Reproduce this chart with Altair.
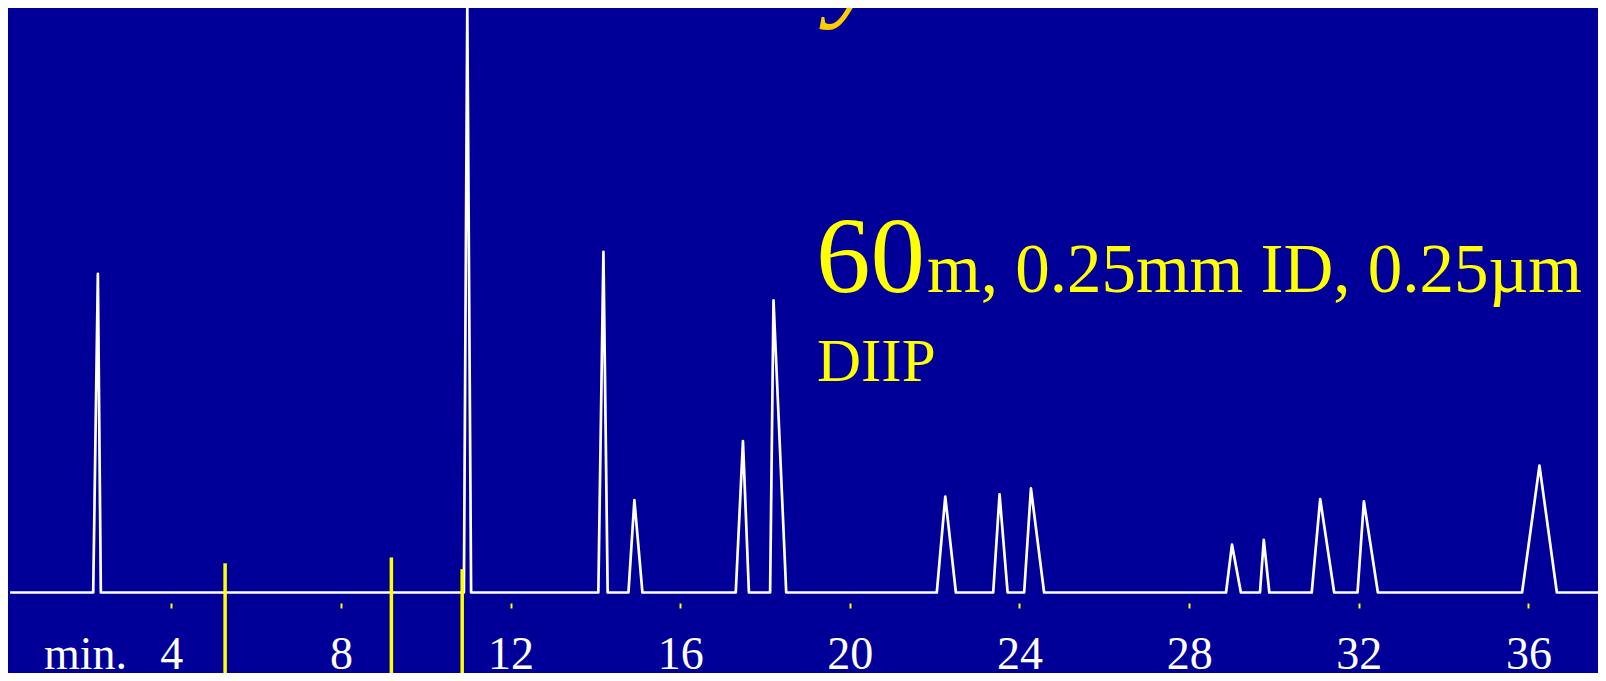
import altair as alt
import pandas as pd

# ---- data ----
apex_times = [2.27, 10.98, 14.19, 14.92, 17.48, 18.20, 22.25, 23.53, 24.27, 29.01, 29.76, 31.09, 32.12, 36.26]
start_times = [2.16, 10.90, 14.07, 14.78, 17.31, 18.12, 22.05, 23.38, 24.11, 28.87, 29.67, 30.89, 31.97, 35.85]
end_times = [2.34, 11.07, 14.29, 15.11, 17.62, 18.50, 22.50, 23.72, 24.58, 29.22, 29.89, 31.42, 32.45, 36.67]
peak_heights = [54.5, 100.0, 58.3, 15.8, 25.9, 50.0, 16.4, 16.8, 17.8, 8.2, 9.0, 16.0, 15.6, 21.7]
run_start = 0.2
run_end = 37.64

marker_times = [5.27, 9.19, 10.86]
marker_tops = [5.0, 6.0, 4.0]

tick_values = [4, 8, 12, 16, 20, 24, 28, 32, 36]

title_text = "Isothermal Analysis - 30m vs. 60m"
big_text = "60"
column_text = "m, 0.25mm ID, 0.25µm"
phase_text = "DIIP"

X_DOMAIN = [0.151, 37.64]
Y_DOMAIN = [-13.77, 100]

BG = "#000099"
YELLOW = "#FFFF00"
GOLD = "#FFCC00"
SERIF = "Liberation Serif"

# ---- build tables ----
ts, ys = [run_start], [0.0]
for s, a, e, h in zip(start_times, apex_times, end_times, peak_heights):
    ts += [s, a, e]
    ys += [0.0, h, 0.0]
ts.append(run_end)
ys.append(0.0)
trace = pd.DataFrame({"t": ts, "signal": ys, "idx": list(range(len(ts)))})

markers = pd.DataFrame({
    "t": marker_times,
    "signal": marker_tops,
    "bottom": [Y_DOMAIN[0]] * len(marker_times),
})

x_scale = alt.Scale(domain=X_DOMAIN, nice=False, zero=False)
y_scale = alt.Scale(domain=Y_DOMAIN, nice=False, zero=False)

x_axis = alt.Axis(
    values=tick_values, format="d", title="min.",
    domain=False, grid=False,
    ticks=True, tickSize=5, tickWidth=2, tickColor=YELLOW,
    offset=-70,
    labelFont=SERIF, labelFontSize=46, labelColor="white",
    labelBaseline="alphabetic", labelPadding=60, labelAlign="center",
    labelOverlap=False, labelFlush=False,
    titleFont=SERIF, titleFontSize=46, titleFontWeight="normal", titleColor="white",
    titleX=77, titleY=65, titleAlign="center", titleBaseline="alphabetic", titleAngle=0,
)

X = alt.X("t:Q", scale=x_scale, axis=x_axis)
Y = alt.Y("signal:Q", scale=y_scale, axis=None)

line = alt.Chart(trace).mark_line(
    color="white", strokeWidth=2.7, strokeJoin="round"
).encode(x=X, y=Y, order="idx:Q")

rules = alt.Chart(markers).mark_rule(
    color=YELLOW, strokeWidth=3.5, strokeCap="butt"
).encode(x=X, y=Y, y2="bottom:Q")

def label(text, x, y, size, color=YELLOW, style="normal"):
    return alt.Chart(pd.DataFrame({"txt": [text]})).mark_text(
        font=SERIF, fontSize=size, color=color, align="left",
        baseline="alphabetic", fontStyle=style,
    ).encode(text="txt:N", x=alt.value(x), y=alt.value(y))

title = label(title_text, 47, -4, 120, color=GOLD, style="italic")
big = label(big_text, 808, 284, 109)
col = label(column_text, 919, 284, 69)
phase = label(phase_text, 809, 373, 61)

chart = alt.layer(line, rules, title, big, col, phase).properties(
    width=1590, height=665, background=BG, padding=0,
    autosize=alt.AutoSizeParams(type="none"),
).configure_view(stroke=None)

chart.save("out.html", embed_options={"renderer": "svg", "actions": False})
